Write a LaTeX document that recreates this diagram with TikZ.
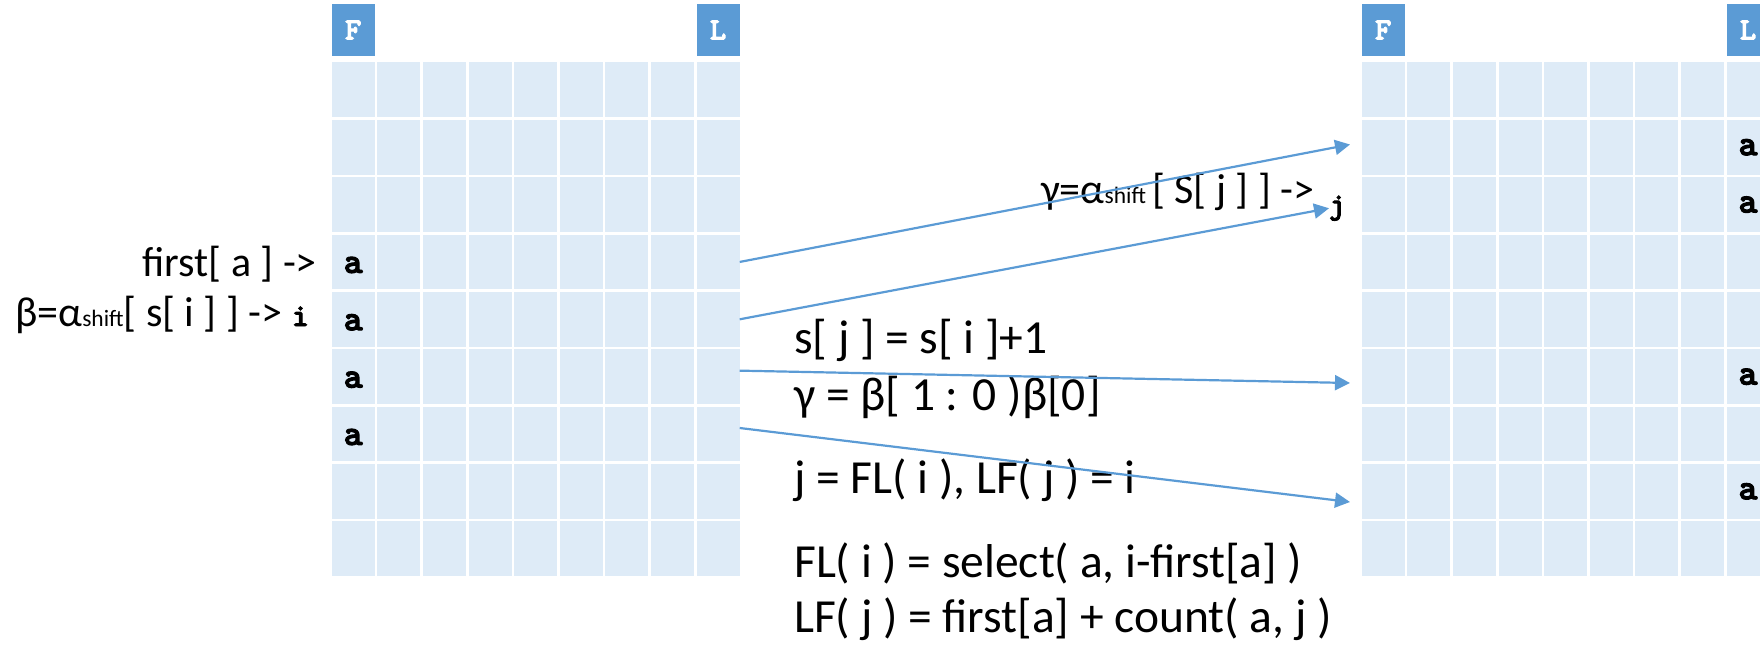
\documentclass[tikz,border=0pt]{standalone}
\usepackage{fontspec}
\setmainfont{Carlito}
\newfontfamily\codefont[FakeBold=3]{lmmonolt10-bold.otf}
\usetikzlibrary{arrows.meta,positioning}
\definecolor{cellbg}{HTML}{DEEBF7}
\definecolor{headbg}{HTML}{5B9BD5}
\definecolor{link}{HTML}{5B9BD5}
\tikzset{
  cell/.style={fill=cellbg, inner sep=0pt, minimum width=43bp, minimum height=54.8bp},
  head/.style={fill=headbg, text=white, inner sep=0pt, minimum width=43bp, minimum height=52bp,
    font=\fontsize{31bp}{31bp}\codefont},
  sym/.style={inner sep=0pt, font=\fontsize{36bp}{36bp}\codefont},
  idx/.style={inner sep=0pt, font=\fontsize{30bp}{30bp}\codefont},
  lbl/.style={inner sep=0pt, font=\fontsize{42bp}{50bp}\selectfont},
  eqn/.style={inner sep=0pt, anchor=base west, font=\fontsize{47.5bp}{56bp}\selectfont},
  jump/.style={draw=link, line width=2.2bp, -{Triangle[length=15bp, width=15bp]}},
}
\newcommand{\shiftsub}{{\fontsize{23.5bp}{23.5bp}\selectfont shift}}
\newcommand{\monoidx}[1]{{\fontsize{32bp}{32bp}\codefont #1}}

\begin{document}
\begin{tikzpicture}[x=1bp, y=-1bp]
\clip (0,0) rectangle (1760,649);

% the two F..L tables
\foreach \r in {0,...,8}
  \foreach \c in {0,...,8} {
    \node[cell] (l-\r-\c) at ({331.7+45.6*\c+21.5}, {62.5+57.35*\r+27.4}) {};
    \node[cell] (r-\r-\c) at ({1361.7+45.6*\c+21.5}, {62.5+57.35*\r+27.4}) {};
  }
\node[head] (lF) at (353.2, 30) {F};
\node[head] (lL) at (718.0, 30) {L};
\node[head] (rF) at (1383.2, 30) {F};
\node[head] (rL) at (1748.0, 30) {L};

\foreach \r in {3,...,6}
  \node[sym] (la-\r) at ([yshift=-3bp]l-\r-0) {a};
\foreach \r in {1,2,5,7}
  \node[sym] (ra-\r) at (r-\r-8) {a};

% labels
\node[lbl, anchor=base east] (firsta) at (317, 276) {first[ a ] ->};
\node[lbl, anchor=base east] (beta) at (309, 326) {β=α\shiftsub[ s[ i ] ] -> \monoidx{i}};
\node[lbl, anchor=base west] (gamma) at (1041, 203) {γ=α\shiftsub\hspace{6bp}[ S[ j ] ] ->};
\node[idx, anchor=base west] (jj) at (1329, 214) {j};

\node[eqn] (eq1) at (794, 353) {s[ j ] = s[ i ]+1};
\node[eqn] (eq2) at (794, 410) {γ = β[ 1 : 0 )β[0]};
\node[eqn] (eq3) at (794, 493) {j = FL( i ), LF( j ) = i};
\node[eqn] (eq4) at (794, 577) {FL( i ) = select( a, i-first[a] )};
\node[eqn] (eq5) at (794, 632) {LF( j ) = first[a] + count( a, j )};

% LF / FL steps
\coordinate (to1) at (1350, 144.5);
\coordinate (to3) at (1350, 383);
\coordinate (to4) at (1350, 502);
\draw[jump] (l-3-8.east) -- (to1);
\draw[jump] (l-4-8.east) -- (jj.west);
\draw[jump] ([yshift=6bp]l-5-8.east) -- (to3);
\draw[jump] ([yshift=6bp]l-6-8.east) -- (to4);

\end{tikzpicture}
\end{document}
